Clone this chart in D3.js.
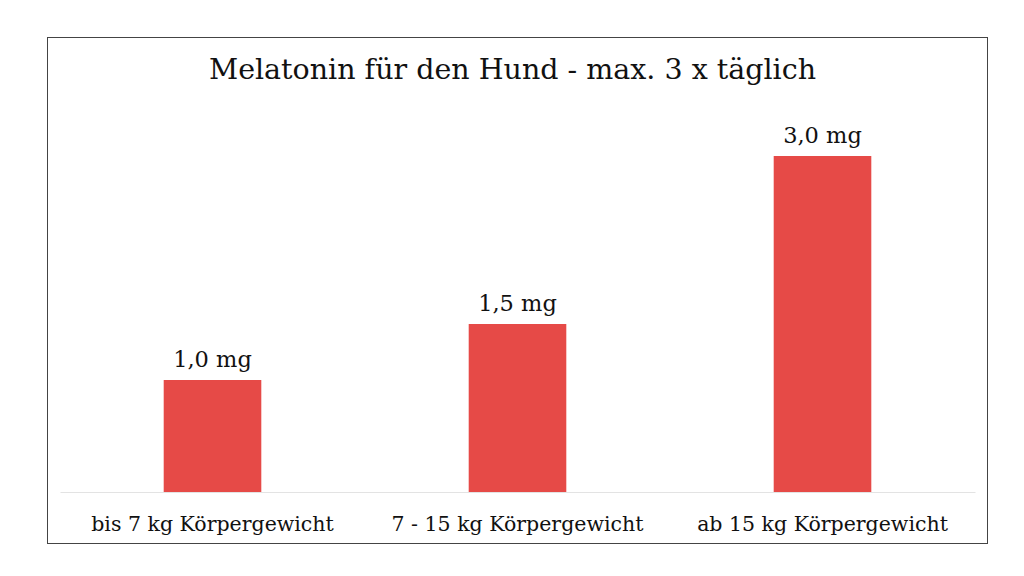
<html>
  <head>
    <script src="https://cdn.jsdelivr.net/npm/d3@7"></script>
    <style>
      body { margin: 0; background: #fff; }
    </style>
  </head>
  <body>
    <div id="container"></div>
    <script>
      const categories = ["bis 7 kg Körpergewicht", "7 - 15 kg Körpergewicht", "ab 15 kg Körpergewicht"];
      const doses = [1.0, 1.5, 3.0];
      const doseLabels = ["1,0 mg", "1,5 mg", "3,0 mg"];
      const title = "Melatonin für den Hund - max. 3 x täglich";

      const W = 1024, H = 576;
      const frame = { x: 47.5, y: 37.5, w: 940, h: 506 };
      const plot = { left: 60, right: 975, top: 100, bottom: 492 };
      const font = "'DejaVu Serif', serif";

      const svg = d3.select("#container").append("svg")
        .attr("width", W).attr("height", H);

      svg.append("rect")
        .attr("x", frame.x).attr("y", frame.y)
        .attr("width", frame.w).attr("height", frame.h)
        .attr("fill", "#fff").attr("stroke", "#444").attr("stroke-width", 1);

      svg.append("text")
        .attr("x", W / 2 + 0.5).attr("y", 79)
        .attr("text-anchor", "middle")
        .style("font-family", font).style("font-size", "28.5px").style("fill", "#111")
        .text(title);

      const x = d3.scaleBand().domain(categories)
        .range([plot.left, plot.right]).paddingInner(0.68).paddingOuter(0.34);
      const y = d3.scaleLinear().domain([0, 3.5]).range([plot.bottom, plot.bottom - 3.5 * 112]);

      const xAxis = svg.append("g")
        .attr("transform", `translate(0,${plot.bottom})`)
        .call(d3.axisBottom(x).tickSize(0).tickPadding(24));
      xAxis.select(".domain").attr("stroke", "#e3e3e3");
      xAxis.selectAll("text")
        .style("font-family", font).style("font-size", "20.5px").style("fill", "#111");

      svg.append("g").selectAll("rect")
        .data(doses).join("rect")
        .attr("x", (d, i) => x(categories[i]))
        .attr("y", d => y(d))
        .attr("width", x.bandwidth())
        .attr("height", d => y(0) - y(d))
        .attr("fill", "#e64a47");

      svg.append("g").selectAll("text")
        .data(doses).join("text")
        .attr("x", (d, i) => x(categories[i]) + x.bandwidth() / 2)
        .attr("y", d => y(d) - 13)
        .attr("text-anchor", "middle")
        .style("font-family", font).style("font-size", "22.5px").style("fill", "#111")
        .text((d, i) => doseLabels[i]);
    </script>
  </body>
</html>
